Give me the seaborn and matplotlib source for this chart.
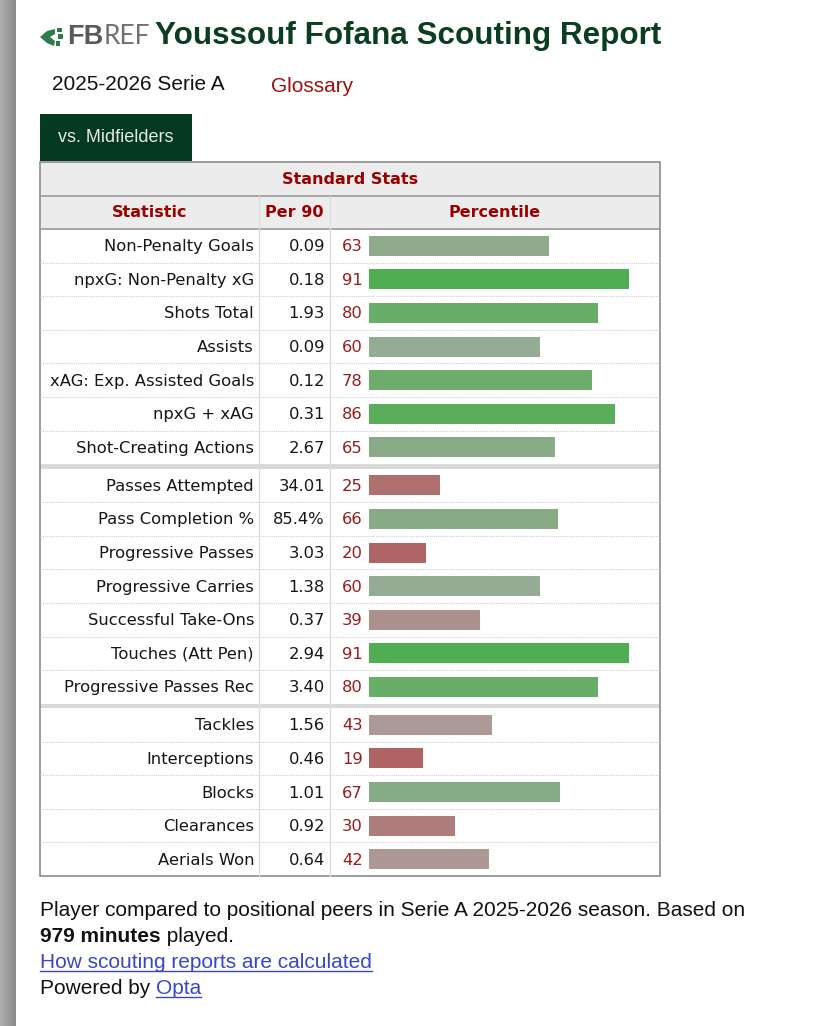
import numpy as np
import matplotlib.pyplot as plt
import seaborn as sns
from matplotlib.patches import Rectangle, Polygon

# Data
player = 'Youssouf Fofana'
season = '2025-2026 Serie A'
minutes = 979

stats_attack = ['Non-Penalty Goals', 'npxG: Non-Penalty xG', 'Shots Total', 'Assists',
                'xAG: Exp. Assisted Goals', 'npxG + xAG', 'Shot-Creating Actions']
per90_attack = ['0.09', '0.18', '1.93', '0.09', '0.12', '0.31', '2.67']
pct_attack = [63, 91, 80, 60, 78, 86, 65]

stats_poss = ['Passes Attempted', 'Pass Completion %', 'Progressive Passes', 'Progressive Carries',
              'Successful Take-Ons', 'Touches (Att Pen)', 'Progressive Passes Rec']
per90_poss = ['34.01', '85.4%', '3.03', '1.38', '0.37', '2.94', '3.40']
pct_poss = [25, 66, 20, 60, 39, 91, 80]

stats_def = ['Tackles', 'Interceptions', 'Blocks', 'Clearances', 'Aerials Won']
per90_def = ['1.56', '0.46', '1.01', '0.92', '0.64']
pct_def = [43, 19, 67, 30, 42]

groups = [(stats_attack, per90_attack, pct_attack),
          (stats_poss, per90_poss, pct_poss),
          (stats_def, per90_def, pct_def)]

# colours
DARK_RED = '#990000'
NUM_RED = '#991b1b'
DARK_GREEN = '#0b3d20'
LINK = '#3a46c8'


def pct_color(p):
    grey = np.array([172, 170, 168]) / 255
    if p >= 50:
        t = min((p - 50) / 45, 1)
        end = np.array([70, 174, 72]) / 255
    else:
        t = min((50 - p) / 35, 1)
        end = np.array([176, 90, 90]) / 255
    return tuple(grey + (end - grey) * t)


W, H = 825, 1026
fig = plt.figure(figsize=(W / 100, H / 100), dpi=100)
fig.patch.set_facecolor('white')
bg = fig.add_axes([0, 0, 1, 1])
bg.set_xlim(0, W)
bg.set_ylim(H, 0)
bg.axis('off')

# grey window edge on the left
grad = np.linspace(0.68, 0.54, 16)[None, :]
bg.imshow(np.repeat(grad, 2, axis=0), cmap='gray', vmin=0, vmax=1, aspect='auto',
          extent=(0, 16, H, 0), zorder=0)

# logo
LOGO = '#2f7a4c'
bg.add_patch(Polygon([(40, 37), (47, 31), (55, 29), (55, 34), (50, 37), (55, 41),
                      (54, 46), (47, 43)], closed=True, color=LOGO, lw=0))
bg.add_patch(Rectangle((57, 28), 5, 4, color=LOGO, lw=0))
bg.add_patch(Rectangle((58, 34), 5, 5, color=LOGO, lw=0))
bg.add_patch(Rectangle((56, 41), 4, 5, color=LOGO, lw=0))
fb = bg.text(67, 37, 'FB', fontsize=19.5, fontweight='bold', color='#5a5a5a',
             family='Liberation Sans', va='center', ha='left')
bg.annotate('REF', xy=(1, 0.5), xycoords=fb, va='center', ha='left', fontsize=19,
            color='#707070', family='Lato', fontweight='normal')

# title
bg.text(155, 36, f'{player} Scouting Report', fontsize=22.6, fontweight='bold',
        color=DARK_GREEN, family='Liberation Sans', va='center', ha='left')
bg.text(52, 85, season, fontsize=15, color='#111111', family='Liberation Sans',
        va='center', ha='left')
bg.text(271, 87, 'Glossary', fontsize=15, color='#991111', family='Liberation Sans',
        va='center', ha='left')

# tab
bg.add_patch(Rectangle((40, 114), 152, 47, color='#033a1f', lw=0))
bg.text(116, 138, 'vs. Midfielders', fontsize=13, color='#e8e8e8',
        family='Liberation Sans', va='center', ha='center')

# table geometry
TL, TR = 40, 660
C1, C2 = 259, 330
top_hdr, mid_hdr, body_top = 162, 196, 229
row_h = 33.6
sep = 4.3
bar_x0, px_per_pct = 369, 2.857

bg.add_patch(Rectangle((TL, top_hdr), TR - TL, body_top - top_hdr, color='#ececec', lw=0))
bg.text((TL + TR) / 2, 179, 'Standard Stats', fontsize=11.5, fontweight='bold',
        color=DARK_RED, family='DejaVu Sans', va='center', ha='center')
for cx, lab in [((TL + C1) / 2, 'Statistic'), ((C1 + C2) / 2, 'Per 90'),
                ((C2 + TR) / 2, 'Percentile')]:
    bg.text(cx, 212.5, lab, fontsize=11.5, fontweight='bold', color=DARK_RED,
            family='DejaVu Sans', va='center', ha='center')
bg.plot([TL, TR], [mid_hdr, mid_hdr], color='#9a9a9a', lw=1.2)
bg.plot([TL, TR], [body_top, body_top], color='#9a9a9a', lw=1.2)

y = body_top
for gi, (names, per90, pcts) in enumerate(groups):
    n = len(names)
    g_top = y
    g_bot = y + n * row_h
    # bar axis for this group
    ax = fig.add_axes([bar_x0 / W, 1 - g_bot / H, 100 * px_per_pct / W, (g_bot - g_top) / H])
    sns.barplot(x=pcts, y=names, hue=names, palette=[pct_color(p) for p in pcts],
                legend=False, orient='h', width=20 / row_h, saturation=1, ax=ax)
    ax.set_xlim(0, 100)
    ax.set_ylim(n - 0.5, -0.5)
    ax.axis('off')
    ax.patch.set_alpha(0)
    for i in range(n):
        cy = g_top + (i + 0.5) * row_h
        bg.text(C1 - 5, cy + 1, names[i], fontsize=11.8, color='#161616',
                family='DejaVu Sans', va='center', ha='right')
        bg.text(C2 - 5, cy + 1, per90[i], fontsize=11.8, color='#161616',
                family='DejaVu Sans', va='center', ha='right')
        bg.text(342, cy + 1, str(pcts[i]), fontsize=11.8, color=NUM_RED,
                family='DejaVu Sans', va='center', ha='left')
        if i < n - 1:
            yy = g_top + (i + 1) * row_h
            bg.plot([TL, TR], [yy, yy], color='#d0d0d0', lw=0.8, ls=(0, (1, 1)))
    y = g_bot
    if gi < len(groups) - 1:
        bg.add_patch(Rectangle((TL, y), TR - TL, sep, color='#d9d9d9', lw=0))
        y += sep
table_bot = y

bg.plot([C1, C1], [mid_hdr, table_bot], color='#dddddd', lw=1)
bg.plot([C2, C2], [mid_hdr, table_bot], color='#dddddd', lw=1)
bg.add_patch(Rectangle((TL, top_hdr), TR - TL, table_bot - top_hdr, fill=False,
                       ec='#8c8c8c', lw=1.2))

# footer
fs = 15.05
bg.text(40, 911, 'Player compared to positional peers in Serie A 2025-2026 season. Based on',
        fontsize=fs, color='#111111', family='Liberation Sans', va='center', ha='left')
m = bg.text(40, 937, f'{minutes} minutes', fontsize=fs, fontweight='bold', color='#111111',
            family='Liberation Sans', va='center', ha='left')
bg.annotate(' played.', xy=(1, 0.5), xycoords=m, fontsize=fs, color='#111111',
            family='Liberation Sans', va='center', ha='left')
link = bg.text(40, 963, 'How scouting reports are calculated', fontsize=fs, color=LINK,
               family='Liberation Sans', va='center', ha='left')
pw = bg.text(40, 989, 'Powered by ', fontsize=fs, color='#111111',
             family='Liberation Sans', va='center', ha='left')
opta = bg.annotate('Opta', xy=(1, 0.5), xycoords=pw, fontsize=fs, color=LINK,
                   family='Liberation Sans', va='center', ha='left')

# underlines for links
fig.canvas.draw()
inv = bg.transData.inverted()
for t in (link, opta):
    bb = t.get_window_extent()
    (x0, y0), (x1, y1) = inv.transform([(bb.x0, bb.y0), (bb.x1, bb.y1)])
    bg.plot([x0, x1], [y0 - 2, y0 - 2], color=LINK, lw=1)

fig.savefig('out.png', dpi=100, facecolor='white')
